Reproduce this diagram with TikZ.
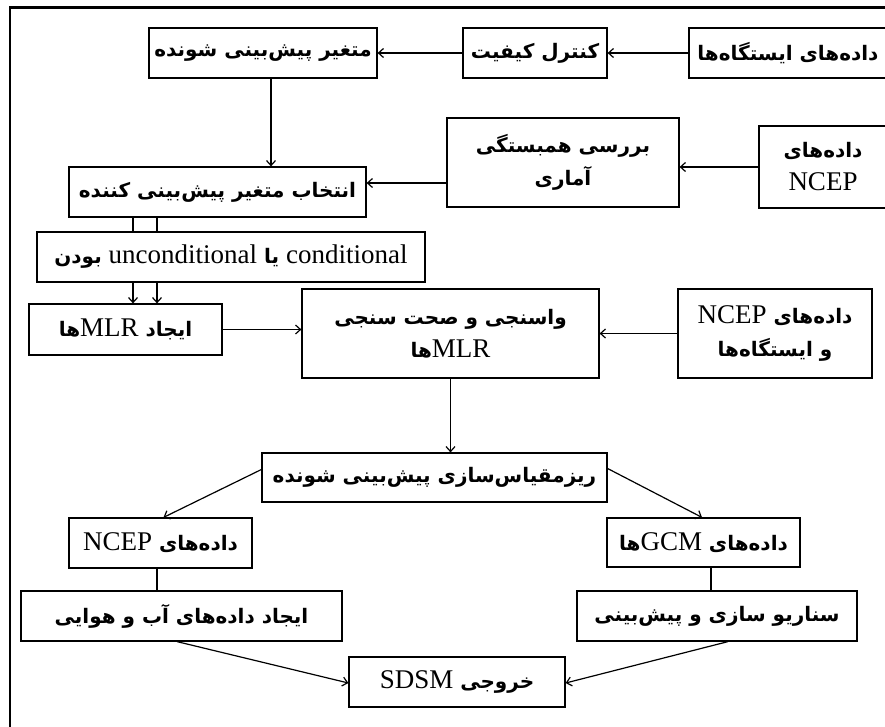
\documentclass[tikz,border=0pt]{standalone}
\usepackage{fontspec}
\setmainfont{Liberation Serif}
\newfontfamily\fafont[Script=Arabic]{DejaVu Sans}
\TeXXeTstate=1
\usetikzlibrary{arrows.meta}
\newcommand\FaTxt[1]{{\fafont\bfseries\beginR #1\endR}}
\newcommand\LatinTxt[1]{{\normalfont\fontsize{27}{30}\selectfont #1}}
\begin{document}
\begin{tikzpicture}[x=1pt,y=-1pt,
  box/.style={draw, line width=1.2pt, inner sep=0pt, align=center, font=\fontsize{20}{33}\selectfont},
  arr/.style={line width=1.2pt, -{Straight Barb[length=5pt,width=9pt,line width=1.2pt]}},
  ln/.style={line width=1.2pt}]
\useasboundingbox (0,0) rectangle (885,726);
\fill[white] (0,0) rectangle (885,726);
\draw[line width=2.2pt] (10,740) -- (10,7.5) -- (900,7.5);
% top row
\node[box, minimum width=228pt, minimum height=50pt] (A) at (263,53) {\FaTxt{متغیر پیش^^^^200cبینی شونده}};
\node[box, minimum width=144pt, minimum height=50pt] (B) at (535,53) {\FaTxt{کنترل کیفیت}};
\node[box, minimum width=198pt, minimum height=50pt] (C) at (788,53) {\FaTxt{داده^^^^200cهای ایستگاه^^^^200cها}};
% second row
\node[box, minimum width=232pt, minimum height=89pt] (D) at (563,162.5) {\FaTxt{بررسی همبستگی}\\\FaTxt{آماری}};
\node[box, minimum width=128pt, minimum height=82pt] (E) at (823,167) {\FaTxt{داده^^^^200cهای}\\\LatinTxt{NCEP}};
\node[box, minimum width=297pt, minimum height=50pt] (F) at (217.5,192) {\FaTxt{انتخاب متغیر پیش^^^^200cبینی کننده}};
\node[box, minimum width=388pt, minimum height=50pt] (G) at (231,257) {\FaTxt{\LatinTxt{conditional} یا \LatinTxt{unconditional} بودن}};
% third row
\node[box, minimum width=193pt, minimum height=51pt] (H) at (125.5,329.5) {\FaTxt{ایجاد \LatinTxt{MLR}ها}};
\node[box, minimum width=297pt, minimum height=89pt] (I) at (450.5,333.5) {\FaTxt{واسنجی و صحت سنجی}\\\FaTxt{\LatinTxt{MLR}ها}};
\node[box, minimum width=194pt, minimum height=89pt] (J) at (775,333.5) {\FaTxt{داده^^^^200cهای \LatinTxt{NCEP}}\\\FaTxt{و ایستگاه^^^^200cها}};
% lower part
\node[box, minimum width=345pt, minimum height=49pt] (K) at (434.5,477.5) {\FaTxt{ریزمقیاس^^^^200cسازی پیش^^^^200cبینی شونده}};
\node[box, minimum width=183pt, minimum height=50pt] (L) at (160.5,543) {\FaTxt{داده^^^^200cهای \LatinTxt{NCEP}}};
\node[box, minimum width=193pt, minimum height=49pt] (M) at (703.5,542.5) {\FaTxt{داده^^^^200cهای \LatinTxt{GCM}ها}};
\node[box, minimum width=321pt, minimum height=50pt] (N) at (181.5,616) {\FaTxt{ایجاد داده^^^^200cهای آب و هوایی}};
\node[box, minimum width=280pt, minimum height=50pt] (O) at (717,616) {\FaTxt{سناریو سازی و پیش^^^^200cبینی}};
\node[box, minimum width=216pt, minimum height=50pt] (P) at (457,682) {\FaTxt{خروجی \LatinTxt{SDSM}}};
% connectors
\draw[arr] (C.west) -- (B.east);
\draw[arr] (B.west) -- (A.east);
\draw[arr] ([xshift=8pt]A.south) -- ([xshift=8pt]A.south |- F.north);
\draw[arr] (E.west) -- (E.west -| D.east);
\coordinate (d1) at ([yshift=-20.5pt]D.west);
\draw[arr] (d1) -- (d1 -| F.east);
\draw[ln] ([xshift=-84.5pt]F.south) -- ([xshift=-84.5pt]F.south |- G.north);
\draw[ln] ([xshift=-60.5pt]F.south) -- ([xshift=-60.5pt]F.south |- G.north);
\draw[arr] ([xshift=-98pt]G.south) -- ([xshift=-98pt]G.south |- H.north);
\draw[arr] ([xshift=-74pt]G.south) -- ([xshift=-74pt]G.south |- H.north);
\draw[arr] (H.east) -- (H.east -| I.west);
\draw[arr] (J.west) -- (J.west -| I.east);
\draw[arr] (I.south) -- (I.south |- K.north);
\draw[arr] ([yshift=8pt]K.west) -- ([xshift=3pt]L.north);
\draw[arr] ([yshift=9pt]K.east) -- ([xshift=-1.5pt]M.north);
\draw[ln] ([xshift=-3.5pt]L.south) -- ([xshift=-3.5pt]L.south |- N.north);
\draw[ln] ([xshift=7.5pt]M.south) -- ([xshift=7.5pt]M.south |- O.north);
\draw[arr] ([xshift=-4.5pt]N.south) -- ([yshift=-1pt]P.west);
\draw[arr] ([xshift=11pt]O.south) -- ([yshift=-1pt]P.east);
\end{tikzpicture}
\end{document}
